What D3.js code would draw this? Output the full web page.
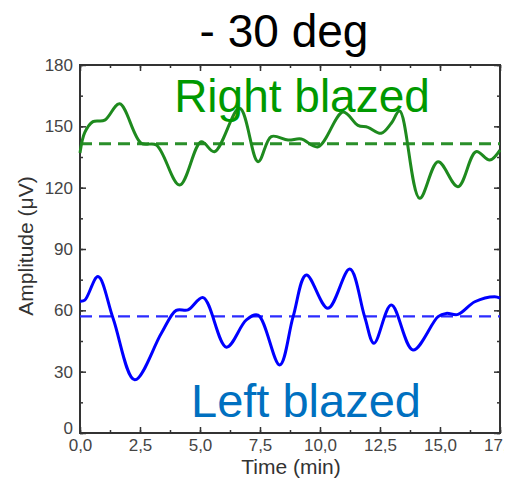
<!DOCTYPE html>
<html>
<head>
<meta charset="utf-8">
<script src="https://cdn.jsdelivr.net/npm/d3@7"></script>
<style>
  body { margin: 0; background: #fff; }
  text { font-family: "Liberation Sans", Arial, sans-serif; }
</style>
</head>
<body>
<script>
// data
var rightTime = [0, 0.2, 0.54, 1.03, 1.65, 2.55, 3.18, 4.15, 5.05, 5.6, 6.65, 7.42, 7.97, 8.67, 9.22, 9.92,
                 10.96, 11.58, 12.0, 12.55, 12.97, 13.32, 14.15, 14.92, 15.75, 16.5, 17.07, 17.5];
var rightAmp  = [137, 147, 152.3, 153, 161, 141.7, 140.9, 121.3, 142.5, 137.6, 158.8, 132.7, 145, 143.3, 143.8, 140,
                 157, 150.5, 149.5, 146.6, 151.5, 157.5, 114.8, 132.7, 120.5, 137.6, 133.5, 138.4];
var leftTime  = [0, 0.2, 0.75, 1.38, 2.28, 3.39, 4.01, 4.5, 5.13, 6.1, 6.93, 7.42, 8.32, 8.88, 9.43, 10.33,
                 11.24, 11.86, 12.25, 12.97, 13.875, 14.92, 15.26, 15.75, 16.45, 17.28, 17.5];
var leftAmp   = [64.5, 65, 76.5, 56, 26, 48.8, 60, 60.2, 66.2, 42, 55.3, 57.7, 33.3, 56.9, 77.3, 61,
                 80.2, 56.9, 43.9, 62.6, 40.6, 56.9, 58.5, 58, 64.2, 66.7, 66];
var rightMean = 141.5;
var leftMean = 57;

var xTicks = [0, 2.5, 5, 7.5, 10, 12.5, 15, 17.5];
var yTicks = [0, 30, 60, 90, 120, 150, 180];

// layout
var margin = {top: 65, right: 14, bottom: 47, left: 80},
    width = 500 - margin.left,
    height = 433 - margin.top;

var x = d3.scaleLinear().domain([0, 17.5]).range([0, width]),
    y = d3.scaleLinear().domain([0, 180]).range([height, 0]);

var svg = d3.select("body").append("svg")
    .attr("width", 504)
    .attr("height", 480);

var g = svg.append("g")
    .attr("transform", "translate(" + margin.left + "," + margin.top + ")");

var fmt = function(d) { return d3.format(".1f")(d).replace(".", ","); };
var minorX = d3.range(0, 17.51, 1.25), minorY = d3.range(0, 181, 15);

// minor + major ticks, all four sides, pointing in
function addTicks(sel, axis, vals, size) {
  sel.call(axis.tickValues(vals).tickSize(size).tickFormat(""));
}
var axStyle = function(s) {
  s.select(".domain").remove();
  s.selectAll("line").attr("stroke", "#333").attr("stroke-width", 1.5);
};
[[minorX, 3], [xTicks, 6]].forEach(function(p) {
  g.append("g").attr("transform", "translate(0," + height + ")")
    .call(function(s) { addTicks(s, d3.axisTop(x), p[0], p[1]); }).call(axStyle);
  g.append("g")
    .call(function(s) { addTicks(s, d3.axisBottom(x), p[0], p[1]); }).call(axStyle);
});
[[minorY, 3], [yTicks, 6]].forEach(function(p) {
  g.append("g")
    .call(function(s) { addTicks(s, d3.axisRight(y), p[0], p[1]); }).call(axStyle);
  g.append("g").attr("transform", "translate(" + width + ",0)")
    .call(function(s) { addTicks(s, d3.axisLeft(y), p[0], p[1]); }).call(axStyle);
});

// tick labels
g.append("g").attr("transform", "translate(0," + height + ")")
  .call(d3.axisBottom(x).tickValues(xTicks).tickSize(0).tickPadding(6).tickFormat(fmt))
  .call(function(s) {
    s.select(".domain").remove();
    s.selectAll("text").attr("font-size", 17).attr("fill", "#444");
  });
g.append("g")
  .call(d3.axisLeft(y).tickValues(yTicks).tickSize(0).tickPadding(7))
  .call(function(s) {
    s.select(".domain").remove();
    s.selectAll("text").attr("font-size", 17).attr("fill", "#444");
    s.selectAll("text").filter(function(d) { return d === 0; }).attr("dy", "0.02em");
  });

// frame
g.append("rect")
  .attr("width", width).attr("height", height)
  .attr("fill", "none").attr("stroke", "#333").attr("stroke-width", 2);

// mean lines
g.append("line")
  .attr("x1", 0).attr("x2", width)
  .attr("y1", y(rightMean)).attr("y2", y(rightMean))
  .attr("stroke", "#2a8f2a").attr("stroke-width", 3).attr("stroke-dasharray", "12,7");
g.append("line")
  .attr("x1", 0).attr("x2", width)
  .attr("y1", y(leftMean)).attr("y2", y(leftMean))
  .attr("stroke", "#2b2bff").attr("stroke-width", 2.2).attr("stroke-dasharray", "12,7");

// curves
var line = d3.line()
  .x(function(d) { return x(d[0]); })
  .y(function(d) { return y(d[1]); })
  .curve(d3.curveCatmullRom.alpha(0.5));

g.append("path")
  .datum(d3.zip(rightTime, rightAmp))
  .attr("d", line)
  .attr("fill", "none").attr("stroke", "#1e8a1e").attr("stroke-width", 3);
g.append("path")
  .datum(d3.zip(leftTime, leftAmp))
  .attr("d", line)
  .attr("fill", "none").attr("stroke", "#0000ff").attr("stroke-width", 3);

// labels
svg.append("text").attr("x", 284).attr("y", 47)
  .attr("text-anchor", "middle").attr("font-size", 46).attr("fill", "#000")
  .text("- 30 deg");
svg.append("text").attr("x", 302).attr("y", 112)
  .attr("text-anchor", "middle").attr("font-size", 46).attr("fill", "#009900")
  .text("Right blazed");
svg.append("text").attr("x", 306).attr("y", 417)
  .attr("text-anchor", "middle").attr("font-size", 47).attr("fill", "#0070c0")
  .text("Left blazed");
svg.append("text").attr("x", 291).attr("y", 474)
  .attr("text-anchor", "middle").attr("font-size", 21).attr("fill", "#333")
  .text("Time (min)");
svg.append("text")
  .attr("transform", "translate(33,246) rotate(-90)")
  .attr("text-anchor", "middle").attr("font-size", 21).attr("fill", "#333")
  .text("Amplitude (\u03bcV)");
</script>
</body>
</html>
